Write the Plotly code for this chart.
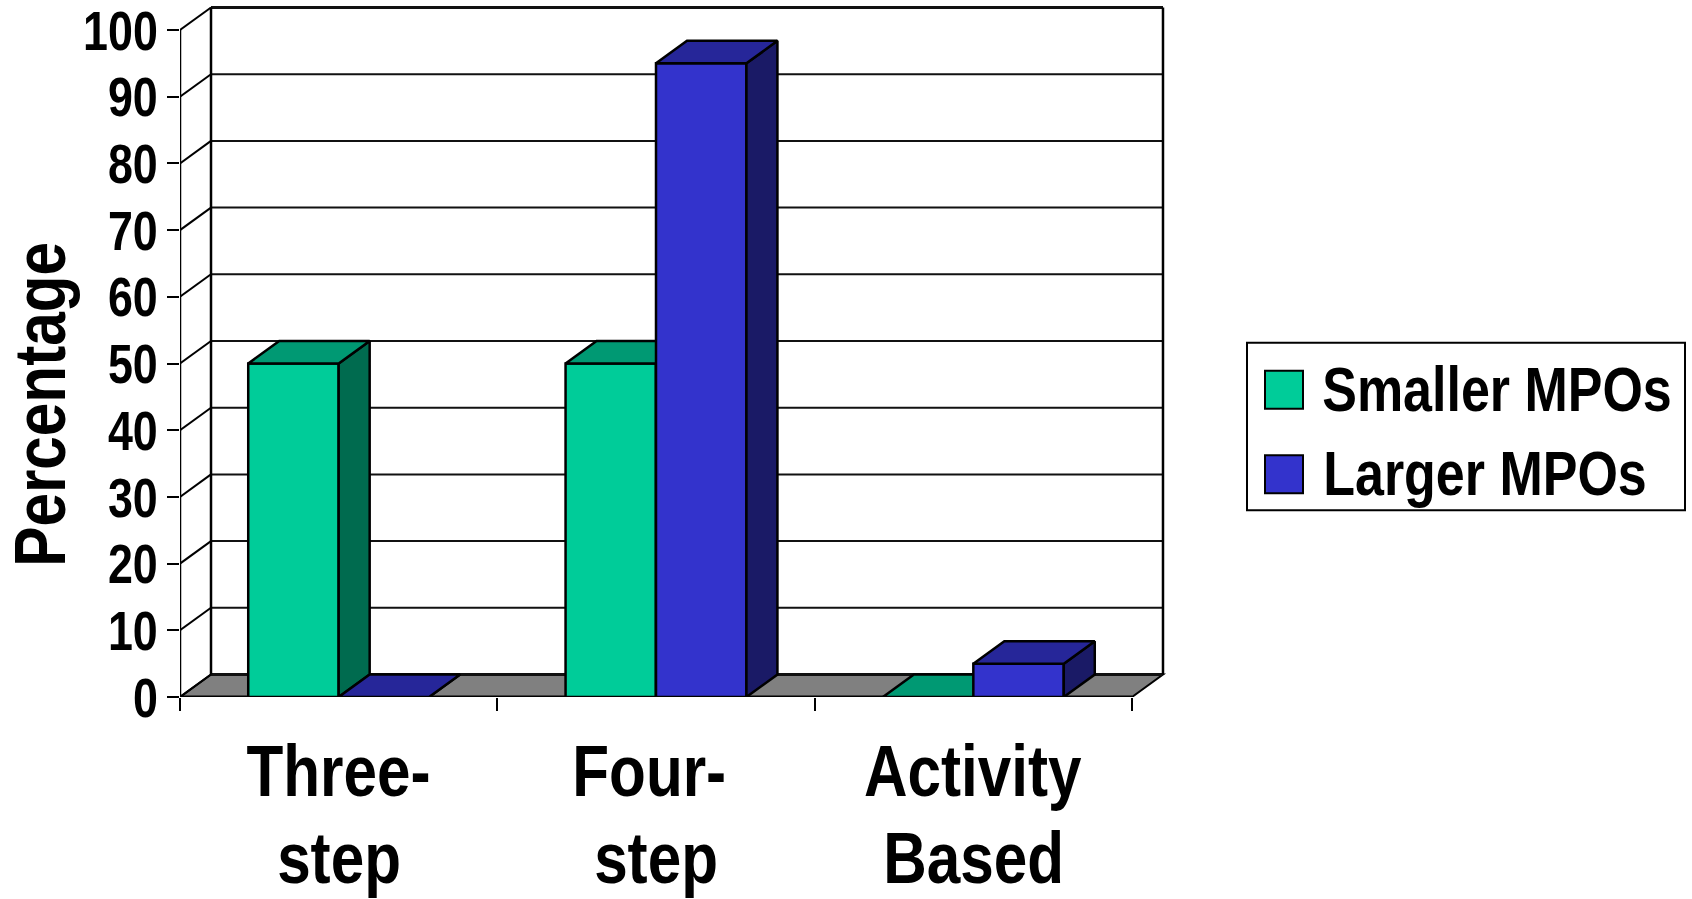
import plotly.graph_objects as go

# ---- data ----
categories = [["Three-", "step"], ["Four-", "step"], ["Activity", "Based"]]
series_names = ["Smaller MPOs", "Larger MPOs"]
smaller_values = [50, 50, 0]
larger_values = [0, 95, 5]
y_ticks = [0, 10, 20, 30, 40, 50, 60, 70, 80, 90, 100]

# ---- style / geometry ----
W, H = 1692, 899
L, R, T, B = 180.0, 1170.0, 6.0, 696.7
PX_X = 317.33          # pixels per category
PX_Y = 6.667           # pixels per percent
DX = 31.0 / PX_X       # depth offset
DY = 22.5 / PX_Y
XMAX = (R - L) / PX_X
YMAX = (B - T) / PX_Y
NCAT = len(categories)
BAR_W = 0.285
FONT = "Liberation Sans, Arial, sans-serif"
colors = [
    dict(front="#00CC99", top="#009973", side="#006B4F"),
    dict(front="#3333CC", top="#262699", side="#1A1A66"),
]
centers = [i + 0.5 for i in range(NCAT)]
label_shifts = [[0, 0], [-7, 0], [0, 0]]


def px(x):
    return (x - L) / (R - L)


def py(y):
    return (B - y) / (B - T)


def line(x0, y0, x1, y1, width=2, color="black"):
    return dict(type="line", xref="x", yref="y", x0=x0, y0=y0, x1=x1, y1=y1,
                layer="below", line=dict(color=color, width=width))


shapes = []
# floor
shapes.append(dict(type="path", xref="x", yref="y", layer="below",
                   path=f"M0,0 L{NCAT},0 L{NCAT + DX},{DY} L{DX},{DY} Z",
                   fillcolor="#808080", line=dict(color="black", width=2)))
# gridlines on back wall and left wall
for v in y_ticks:
    w = 3 if v in (0, 100) else 2
    shapes.append(line(DX, v + DY, NCAT + DX, v + DY, w, "#111111"))
    if v > 0:
        shapes.append(line(0, v, DX, v + DY, 2))
# wall edges
shapes.append(line(DX, DY, DX, 100 + DY, 2.5))
shapes.append(line(NCAT + DX, DY, NCAT + DX, 100 + DY, 2.5))
shapes.append(line(0, 0, 0, 100, 2.5))
shapes.append(line(0, 0, DX, DY, 2))
shapes.append(line(0, 0, NCAT, 0, 3))

traces = []
for s, (name, vals) in enumerate(zip(series_names, [smaller_values, larger_values])):
    xa = "x" if s == 0 else "x2"
    ya = "y" if s == 0 else "y2"
    c = colors[s]
    off = -BAR_W if s == 0 else 0.0
    traces.append(go.Bar(x=centers, y=vals, width=BAR_W, offset=off, name=name,
                         marker=dict(color=c["front"], line=dict(color="black", width=2.5)),
                         xaxis=xa, yaxis=ya, showlegend=False))
    for cx, v in zip(centers, vals):
        x0 = cx + off
        x1 = x0 + BAR_W
        # side face
        traces.append(go.Scatter(
            x=[x1, x1 + DX, x1 + DX, x1, x1], y=[0, DY, v + DY, v, 0],
            mode="lines", fill="toself", fillcolor=c["side"],
            line=dict(color="black", width=2.5), xaxis=xa, yaxis=ya,
            showlegend=False, hoverinfo="skip"))
        # top face
        traces.append(go.Scatter(
            x=[x0, x1, x1 + DX, x0 + DX, x0], y=[v, v, v + DY, v + DY, v],
            mode="lines", fill="toself", fillcolor=c["top"],
            line=dict(color="black", width=2.5), xaxis=xa, yaxis=ya,
            showlegend=False, hoverinfo="skip"))

annotations = []
bold = dict(family=FONT, color="black", weight="bold")
# category labels (two lines each)
LINE1_Y, LINE2_Y = 770, 857
for cx, lines, shifts in zip(centers, categories, label_shifts):
    for txt, yy, xs in zip(lines, [LINE1_Y, LINE2_Y], shifts):
        annotations.append(dict(text=txt, xref="x", yref="paper", x=cx, xshift=xs,
                                y=py(yy), xanchor="center", yanchor="middle", showarrow=False,
                                font=dict(bold, size=73)))
# axis title
annotations.append(dict(text="Percentage", xref="paper", yref="paper", x=px(39), y=py(404),
                        xanchor="center", yanchor="middle", textangle=-90, showarrow=False,
                        font=dict(bold, size=73)))
# legend
shapes.append(dict(type="rect", xref="paper", yref="paper", x0=px(1247), x1=px(1685),
                   y0=py(510), y1=py(342.7), fillcolor="white",
                   line=dict(color="black", width=2)))
for s, (name, y0, y1, tc, tx) in enumerate(zip(series_names, [370.7, 455], [408.7, 493],
                                               [389, 473], [1497, 1485])):
    shapes.append(dict(type="rect", xref="paper", yref="paper", x0=px(1265), x1=px(1303),
                       y0=py(y1), y1=py(y0), fillcolor=colors[s]["front"],
                       line=dict(color="black", width=2)))
    annotations.append(dict(text=name, xref="paper", yref="paper", x=px(tx), y=py(tc),
                            width=360, xanchor="center", yanchor="middle", showarrow=False,
                            font=dict(bold, size=63)))

fig = go.Figure(traces)
fig.update_layout(
    width=W, height=H, autosize=False, showlegend=False,
    margin=dict(l=L, r=W - R, t=T, b=H - B, pad=0),
    paper_bgcolor="white", plot_bgcolor="white",
    shapes=shapes, annotations=annotations,
    xaxis=dict(range=[0, XMAX], tickvals=list(range(NCAT + 1)), ticktext=[""] * (NCAT + 1),
               ticks="outside", ticklen=13, tickwidth=2, tickcolor="black", automargin=False,
               showgrid=False, zeroline=False, showline=False, fixedrange=True),
    yaxis=dict(range=[0, YMAX], tickvals=y_ticks, ticks="outside", ticklen=12, tickwidth=2,
               tickcolor="black", showgrid=False, zeroline=False, showline=False,
               ticklabelstandoff=-2, ticklabeloverflow="allow", automargin=False,
               tickfont=dict(bold, size=56), fixedrange=True),
    xaxis2=dict(range=[0, XMAX], overlaying="x", visible=False, fixedrange=True),
    yaxis2=dict(range=[0, YMAX], overlaying="y", visible=False, fixedrange=True),
)
# the reference uses a condensed bold face: narrow the real text with SVG textLength
post = """
document.body.style.margin='0';document.body.style.overflow='hidden';
function squeeze(sel,k){document.querySelectorAll(sel).forEach(function(t){
  var n=t.getComputedTextLength();
  t.setAttribute('textLength',n*k);t.setAttribute('lengthAdjust','spacingAndGlyphs');});}
squeeze('.annotation-text',0.825);
squeeze('g.ytick text',0.8);
"""
fig.write_html("out.html", post_script=post, config=dict(displayModeBar=False))
